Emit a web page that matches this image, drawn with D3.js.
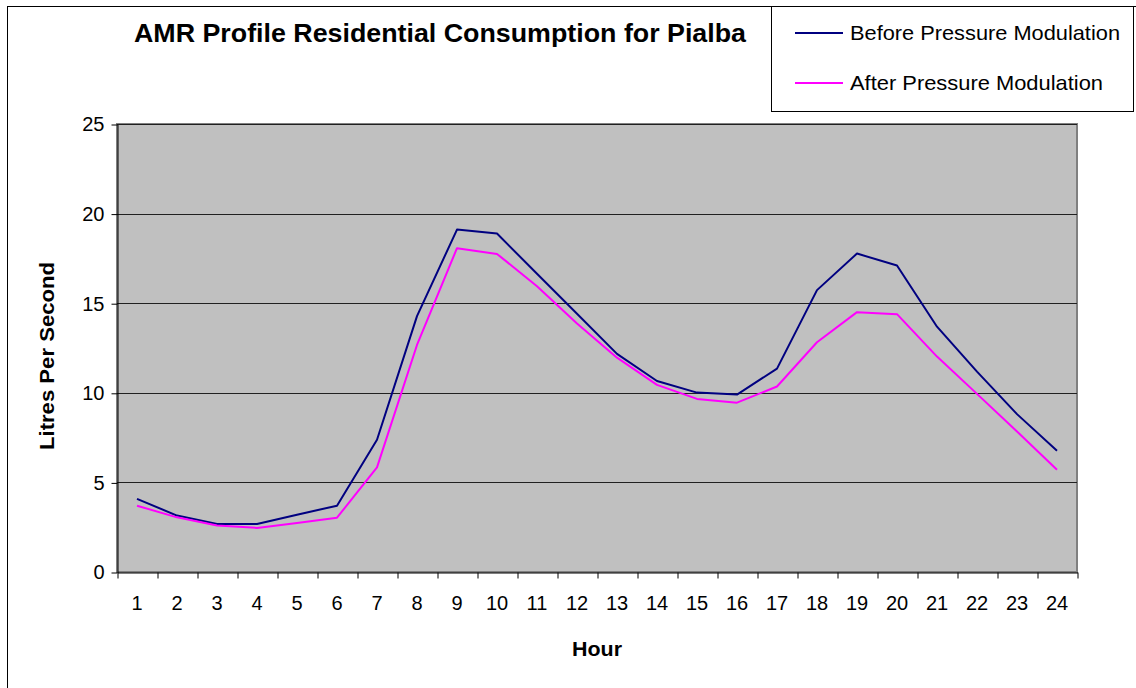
<!DOCTYPE html>
<html>
<head>
<meta charset="utf-8">
<script src="https://cdn.jsdelivr.net/npm/d3@7"></script>
<style>
  body { margin: 0; background: #fff; }
  text { font-family: "Liberation Sans", Arial, sans-serif; }
</style>
</head>
<body>
<script>
// hourly consumption, litres per second
var hours = d3.range(1, 25)
var before = [4.08, 3.15, 2.68, 2.68, 3.2, 3.7, 7.38, 14.28, 19.11, 18.89, 16.64, 14.41,
              12.17, 10.66, 10.01, 9.9, 11.35, 15.73, 17.77, 17.1, 13.69, 11.18, 8.81, 6.77]
var after = [3.7, 3.05, 2.59, 2.46, 2.74, 3.03, 5.84, 12.67, 18.07, 17.75, 15.95, 13.87,
             11.96, 10.44, 9.66, 9.45, 10.35, 12.82, 14.5, 14.39, 12.02, 9.94, 7.84, 5.71]
var yTicks = [0, 5, 10, 15, 20, 25]
var seriesNames = ["Before Pressure Modulation", "After Pressure Modulation"]
var seriesColors = ["#000080", "#FF00FF"]

var W = 1136, H = 688
var plot = { left: 117, right: 1077, top: 124, bottom: 572 }

var d = d3.select("body").append("svg")
    .attr("width", W)
    .attr("height", H)

// chart area border (runs off the right and bottom)
d.append("rect")
    .attr("x", 7.5).attr("y", 6.5)
    .attr("width", W + 20).attr("height", H + 20)
    .attr("fill", "#fff")
    .attr("stroke", "#000")

var x = d3.scaleBand().domain(hours).range([plot.left, plot.right]).paddingInner(0).paddingOuter(0)
var xEdge = d3.scaleLinear().domain([0, 24]).range([plot.left, plot.right])
var y = d3.scaleLinear().domain([0, 25]).range([plot.bottom, plot.top])

// plot area
d.append("rect")
    .attr("x", plot.left).attr("y", plot.top)
    .attr("width", plot.right - plot.left).attr("height", plot.bottom - plot.top)
    .attr("fill", "#C0C0C0")
    .attr("stroke", "#808080")
    .attr("stroke-width", 2)

// gridlines
d.append("g")
    .selectAll("line")
    .data(yTicks.filter(function (t) { return t > 0 }))
    .enter().append("line")
    .attr("x1", plot.left).attr("x2", plot.right)
    .attr("y1", function (t) { return Math.round(y(t)) + 0.5 })
    .attr("y2", function (t) { return Math.round(y(t)) + 0.5 })
    .attr("stroke", "#202020")
    .attr("stroke-width", 1)

// y axis
var yAxis = d.append("g")
    .attr("transform", "translate(" + (plot.left + 0.5) + ",0.5)")
    .call(d3.axisLeft(y).tickValues(yTicks).tickSize(6).tickPadding(7).tickSizeOuter(0))
yAxis.select(".domain").attr("stroke", "#000")
yAxis.selectAll("line").attr("stroke", "#000")
yAxis.selectAll("text")
    .attr("font-size", 20)
    .attr("fill", "#000")
    .style("font-family", "Liberation Sans, Arial, sans-serif")

// x axis: ticks on category edges, labels in the middle
var xAxis = d.append("g")
    .attr("transform", "translate(0.5," + (plot.bottom + 0.5) + ")")
    .call(d3.axisBottom(xEdge).ticks(24).tickSize(6).tickFormat("").tickSizeOuter(0))
xAxis.select(".domain").attr("stroke", "#000")
xAxis.selectAll("line").attr("stroke", "#000")

d.append("g")
    .selectAll("text")
    .data(hours)
    .enter().append("text")
    .attr("x", function (h) { return x(h) + x.bandwidth() / 2 })
    .attr("y", 610)
    .attr("text-anchor", "middle")
    .attr("font-size", 20)
    .text(function (h) { return h })

// lines
var line = d3.line()
    .x(function (v, i) { return x(hours[i]) + x.bandwidth() / 2 })
    .y(function (v) { return y(v) })

;[before, after].forEach(function (s, i) {
    d.append("path")
        .attr("d", line(s))
        .attr("fill", "none")
        .attr("stroke", seriesColors[i])
        .attr("stroke-width", 2)
        .attr("stroke-linejoin", "round")
})

// titles
d.append("text")
    .attr("x", 134).attr("y", 42)
    .attr("font-size", 25)
    .attr("font-weight", "bold")
    .attr("textLength", 612)
    .attr("lengthAdjust", "spacingAndGlyphs")
    .text("AMR Profile Residential Consumption for Pialba")

d.append("text")
    .attr("x", 572).attr("y", 656)
    .attr("font-size", 21)
    .attr("font-weight", "bold")
    .attr("textLength", 50)
    .attr("lengthAdjust", "spacingAndGlyphs")
    .text("Hour")

d.append("text")
    .attr("transform", "translate(54,356) rotate(-90)")
    .attr("text-anchor", "middle")
    .attr("font-size", 21)
    .attr("font-weight", "bold")
    .attr("textLength", 188)
    .attr("lengthAdjust", "spacingAndGlyphs")
    .text("Litres Per Second")

// legend
var lg = d.append("g")
lg.append("rect")
    .attr("x", 771.5).attr("y", 6.5)
    .attr("width", 362).attr("height", 105)
    .attr("fill", "#fff")
    .attr("stroke", "#000")

var textLens = [270, 253]
seriesNames.forEach(function (name, i) {
    var cy = 33 + i * 50
    lg.append("line")
        .attr("x1", 795).attr("x2", 843)
        .attr("y1", cy).attr("y2", cy)
        .attr("stroke", seriesColors[i])
        .attr("stroke-width", 2)
    lg.append("text")
        .attr("x", 850).attr("y", cy + 7)
        .attr("font-size", 21)
        .attr("textLength", textLens[i])
        .attr("lengthAdjust", "spacingAndGlyphs")
        .text(name)
})
</script>
</body>
</html>
